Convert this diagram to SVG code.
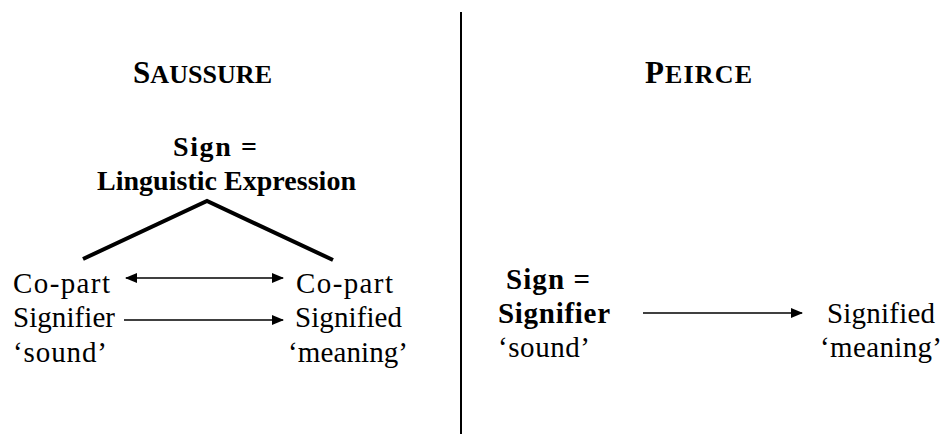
<svg xmlns="http://www.w3.org/2000/svg" width="945" height="434" viewBox="0 0 945 434" font-family="'Liberation Serif', Tinos, 'Times New Roman', Times, serif">
  <style>
    text { fill: #000; }
    .title { font-weight: bold; }
    .big { font-size: 31px; }
    .sc { font-size: 26px; }
    .hb { font-size: 28px; font-weight: bold; }
    .b { font-size: 29px; font-weight: bold; }
    .r { font-size: 29px; }
    .conn { stroke: #000; stroke-width: 1.5; fill: none; }
    .tree { stroke: #000; stroke-width: 4; fill: none; stroke-linecap: butt; }
  </style>
  <defs>
    <marker id="arrowEnd" viewBox="0 0 12 10" refX="11" refY="5" markerWidth="12" markerHeight="10" markerUnits="userSpaceOnUse" orient="auto">
      <path d="M0,0 L12,5 L0,10 Z" fill="#000"/>
    </marker>
    <marker id="arrowStart" viewBox="0 0 12 10" refX="1" refY="5" markerWidth="12" markerHeight="10" markerUnits="userSpaceOnUse" orient="auto">
      <path d="M12,0 L0,5 L12,10 Z" fill="#000"/>
    </marker>
  </defs>

  <rect width="945" height="434" fill="#fff"/>

  <!-- divider between the two models -->
  <line x1="461" y1="12" x2="461" y2="434" stroke="#000" stroke-width="2"/>

  <!-- Saussure column -->
  <g id="saussure-title">
    <text class="title" x="133" y="83" textLength="139" lengthAdjust="spacing"><tspan class="big">S</tspan><tspan class="sc">AUSSURE</tspan></text>
  </g>
  <g id="saussure-sign">
    <text class="hb" x="173" y="156" textLength="84" lengthAdjust="spacing">Sign =</text>
    <text class="hb" x="97" y="190" textLength="259" lengthAdjust="spacing">Linguistic Expression</text>
  </g>
  <g id="saussure-signifier">
    <text class="r" x="13" y="293" textLength="97" lengthAdjust="spacing">Co-part</text>
    <text class="r" x="13" y="327" textLength="102" lengthAdjust="spacing">Signifier</text>
    <text class="r" x="13" y="362" textLength="94" lengthAdjust="spacing">‘sound’</text>
  </g>
  <g id="saussure-signified">
    <text class="r" x="296" y="293" textLength="97" lengthAdjust="spacing">Co-part</text>
    <text class="r" x="295" y="327" textLength="107" lengthAdjust="spacing">Signified</text>
    <text class="r" x="288" y="362" textLength="120" lengthAdjust="spacing">‘meaning’</text>
  </g>

  <!-- Peirce column -->
  <g id="peirce-title">
    <text class="title" x="645" y="83" textLength="107" lengthAdjust="spacing"><tspan class="big">P</tspan><tspan class="sc">EIRCE</tspan></text>
  </g>
  <g id="peirce-sign">
    <text class="b" x="506" y="289" textLength="84" lengthAdjust="spacing">Sign =</text>
    <text class="b" x="498" y="323" textLength="112" lengthAdjust="spacing">Signifier</text>
    <text class="r" x="498" y="357" textLength="92" lengthAdjust="spacing">‘sound’</text>
  </g>
  <g id="peirce-signified">
    <text class="r" x="827" y="323" textLength="108" lengthAdjust="spacing">Signified</text>
    <text class="r" x="820" y="357" textLength="122" lengthAdjust="spacing">‘meaning’</text>
  </g>

  <!-- connectors -->
  <g id="connectors">
    <polyline class="tree" points="83,259 207,201 333,260"/>
    <line class="conn" x1="126" y1="278" x2="283" y2="278" marker-start="url(#arrowStart)" marker-end="url(#arrowEnd)"/>
    <line class="conn" x1="124" y1="320" x2="283" y2="320" marker-end="url(#arrowEnd)"/>
    <line class="conn" x1="643" y1="313" x2="802" y2="313" marker-end="url(#arrowEnd)"/>
  </g>
</svg>
